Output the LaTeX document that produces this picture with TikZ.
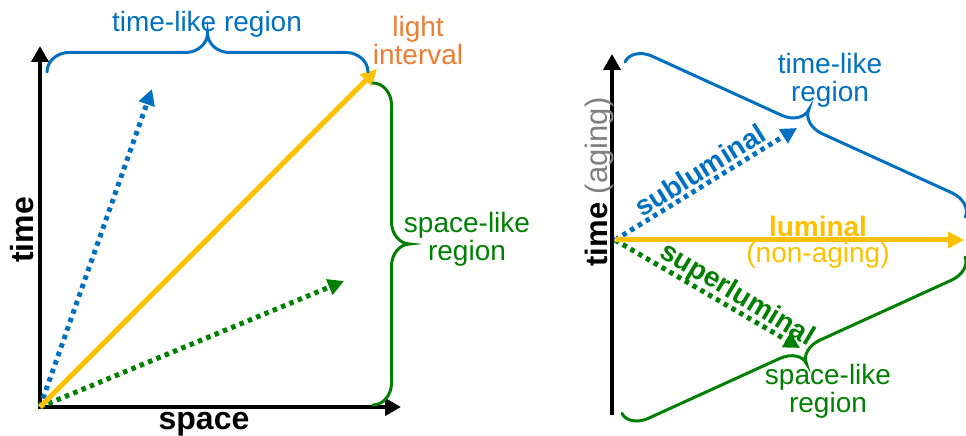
\documentclass[tikz,border=0pt]{standalone}
\usepackage{fontspec}
\setmainfont{Liberation Sans}
\usetikzlibrary{arrows.meta}
\definecolor{tblue}{HTML}{0070C0}
\definecolor{sgreen}{HTML}{008000}
\definecolor{lyellow}{HTML}{FFC000}
\definecolor{lorange}{HTML}{ED7D31}
\definecolor{agray}{HTML}{808080}
\tikzset{
  axisline/.style={line width=4pt, black},
  dotarrow/.style={line width=5pt, dash pattern=on 4.5pt off 4.5pt, -{Triangle[length=16pt,width=16pt]}},
  lightarrow/.style={line width=5pt, lyellow, -{Triangle[length=16pt,width=16pt]}},
  bracestyle/.style={line width=3pt, line cap=round},
  lbl/.style={inner sep=0pt, font=\fontsize{28}{28}\selectfont, align=center, anchor=base},
  blbl/.style={inner sep=0pt, font=\fontsize{28}{28}\selectfont\bfseries},
  axlbl/.style={inner sep=0pt, font=\fontsize{32}{32}\selectfont\bfseries, anchor=base},
  pics/cbrace/.style args={#1/#2}{code={
    \pgfmathsetmacro\bL{#1}\pgfmathsetmacro\bh{#2}
    \pgfmathsetmacro\bm{\bL/2}
    \def\br{22}
    \draw[pic actions] (0,0) .. controls (0,{0.55*\bh}) and ({0.45*\br},\bh) .. (\br,\bh)
      -- ({\bm-\br},\bh) .. controls ({\bm-0.45*\br},\bh) and (\bm,{1.45*\bh}) .. (\bm,{2*\bh})
      .. controls (\bm,{1.45*\bh}) and ({\bm+0.45*\br},\bh) .. ({\bm+\br},\bh)
      -- ({\bL-\br},\bh) .. controls ({\bL-0.45*\br},\bh) and (\bL,{0.55*\bh}) .. (\bL,0);
  }}
}
\begin{document}
\begin{tikzpicture}[x=1pt,y=1pt]
\useasboundingbox (0,0) rectangle (966,436);
% ---------- left diagram ----------
\coordinate (O1) at (40,29);
\coordinate (T1) at (40,390);
\coordinate (S1) at (401,29);
\coordinate (B1) at (152,347);
\coordinate (G1) at (344,155);
\coordinate (Y1) at (377,367);
\draw[axisline, {Triangle[length=16pt,width=17pt]}-{Triangle[length=16pt,width=17pt]}] (T1) -- (O1) -- (S1);
\draw[dotarrow, tblue] (O1) -- (B1);
\draw[dotarrow, sgreen] (O1) -- (G1);
\draw[lightarrow] (O1) -- (Y1);
\pic[draw=tblue, bracestyle] at (47,364) {cbrace=321/19.5};
\pic[draw=sgreen, bracestyle, rotate=-90] at (373,353) {cbrace=322/18.5};
\node[lbl, text=tblue] (tlrL) at (207,404) {time-like region};
\node[lbl, text=lorange] (liL) at (418,371) {light\\interval};
\node[lbl, text=sgreen] (slrL) at (467,175) {space-like\\region};
\node[axlbl, rotate=90] (timeL) at (33,206) {time};
\node[axlbl] (spaceL) at (204,6) {space};
% ---------- right diagram ----------
\coordinate (T2b) at (612,21);
\coordinate (T2) at (612,382);
\coordinate (O2) at (615,196);
\coordinate (Y2) at (964,196);
\coordinate (B2) at (797,308);
\coordinate (G2) at (800,88);
\draw[axisline, -{Triangle[length=16pt,width=17pt]}] (T2b) -- (T2);
\draw[dotarrow, tblue] (O2) -- (B2);
\draw[dotarrow, sgreen] (O2) -- (G2);
\draw[lightarrow] (O2) -- (Y2);
\pic[draw=tblue, bracestyle, rotate=-24.5] at (625,374) {cbrace=374/16.5};
\pic[draw=sgreen, bracestyle, rotate=204.5] at (965,179) {cbrace=377/15.5};
\node[lbl, text=tblue] (tlrR) at (830,334) {time-like\\region};
\node[lbl, text=sgreen] (slrR) at (828,23) {space-like\\region};
\node[blbl, text=lyellow, anchor=base] (lum) at (818,199) {luminal};
\node[lbl, text=lyellow] (nonag) at (818,173) {(non-aging)};
\node[blbl, text=tblue, rotate=32] (sub) at (700,266) {subluminal};
\node[blbl, text=sgreen, rotate=-31] (sup) at (737,141) {superluminal};
\node[inner sep=0pt, rotate=90, anchor=base] (timeR) at (607,254)
  {\fontsize{31}{31}\selectfont\bfseries time \mdseries\color{agray}(aging)};
\end{tikzpicture}
\end{document}
